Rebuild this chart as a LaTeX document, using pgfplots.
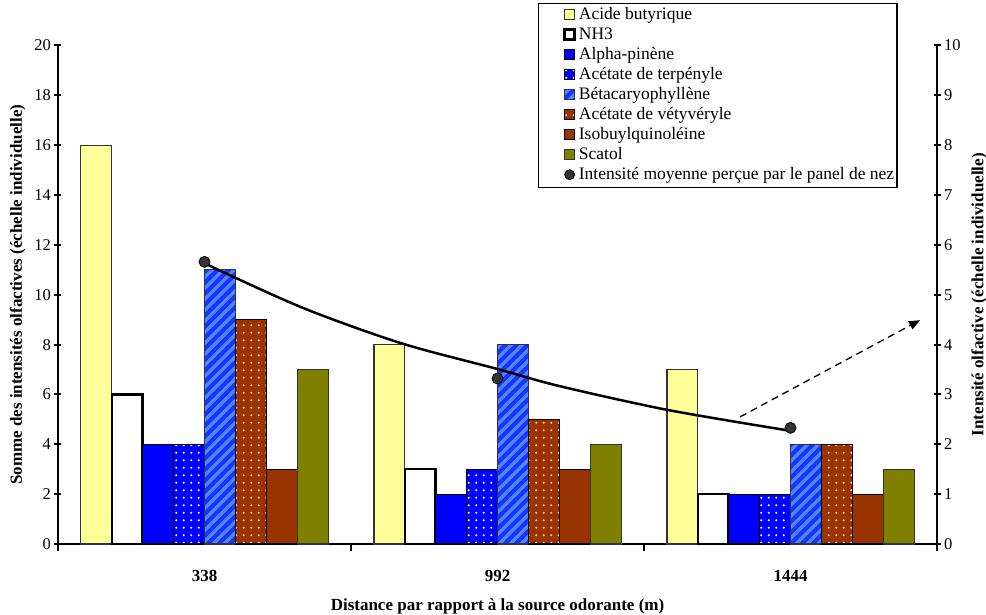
\documentclass[border=0pt]{standalone}
\usepackage{fontspec}
\setmainfont{Liberation Serif}
\usepackage{pgfplots}
\usepackage{pgfplotstable}
\pgfplotsset{compat=1.18}
\usetikzlibrary{patterns,arrows.meta}

\definecolor{cacide}{HTML}{FFFF99}
\definecolor{calpha}{HTML}{0000FF}
\definecolor{cbeta}{HTML}{1A33FF}
\definecolor{cbetastripe}{HTML}{4D88FF}
\definecolor{cbrown}{HTML}{993300}
\definecolor{ctan}{HTML}{FFCC99}
\definecolor{cscatol}{HTML}{808000}
\definecolor{cdot}{HTML}{333333}

% motifs des barres
\pgfdeclarepatternformonly{bardots}{\pgfqpoint{-1pt}{-1pt}}{\pgfqpoint{8.5pt}{8.5pt}}{\pgfqpoint{7.5pt}{7.5pt}}{%
  \pgfpathcircle{\pgfqpoint{3.75pt}{3.75pt}}{1.1pt}\pgfusepath{fill}}
\pgfdeclarepatternformonly{barstripes}{\pgfqpoint{-1pt}{-1pt}}{\pgfqpoint{12pt}{12pt}}{\pgfqpoint{11pt}{11pt}}{%
  \pgfsetlinewidth{3.2pt}\pgfpathmoveto{\pgfqpoint{-1pt}{-1pt}}\pgfpathlineto{\pgfqpoint{12pt}{12pt}}\pgfusepath{stroke}}

\pgfplotsset{
  /pgfplots/ybar legend/.style={/pgfplots/legend image code/.code={%
      \path (0pt,0pt);
      \draw[##1] (22pt,-4pt) rectangle (32pt,6pt);}},
}

% sommes des intensites par distance
\pgfplotstableread{
pos acide nh3 alpha terp beta vet isobu scatol
1   16    6   4     4    11   9   3     7
2   8     3   2     3    8    5   3     4
3   7     2   2     2    4    4   2     3
}\sommes

\begin{document}
\begin{tikzpicture}
\begin{axis}[
    at={(58pt,70pt)}, anchor=south west,
    scale only axis,
    width=879pt, height=498.5pt,
    ybar=0pt, bar width=30.9pt,
    xmin=0.5, xmax=3.5,
    ymin=0, ymax=20,
    xtick={0.5,1.5,2.5,3.5},
    xticklabels={338,992,1444},
    x tick label as interval,
    ytick={0,2,...,20},
    axis x line*=bottom, axis y line*=left,
    axis line style={line width=2pt,-},
    tick style={line width=2pt,black},
    major tick length=7pt, tick align=center,
    x tick style={yshift=-3.5pt},
    /pgf/number format/assume math mode=true,
    tick label style={font=\fontsize{16.5}{19}\selectfont},
    xticklabel style={font=\bfseries\fontsize{17}{20}\selectfont, yshift=-19pt},
    xlabel={Distance par rapport à la source odorante (m)},
    ylabel={Somme des intensités olfactives (échelle individuelle)},
    label style={font=\bfseries\fontsize{17}{20}\selectfont},
    xlabel style={yshift=-10pt},
    ylabel style={yshift=2pt},
    legend cell align=left,
    legend style={at={(rel axis cs:0.9556,1.0853)}, anchor=north east,
      draw=black, line width=1.5pt, inner xsep=3pt, inner ysep=4pt,
      font=\fontsize{17.5}{20}\selectfont,
      nodes={inner sep=0pt, text height=12pt, text depth=4pt},
      row sep=4pt, /tikz/every odd column/.append style={column sep=3pt}},
]
\addplot[fill=cacide, draw=black!80, line width=1.2pt] table[x=pos,y=acide] {\sommes};
\addlegendentry{Acide butyrique}
\addplot[fill=white, draw=black, line width=2.5pt] table[x=pos,y=nh3] {\sommes};
\addlegendentry{NH3}
\addplot[fill=calpha, draw=black, line width=1.2pt] table[x=pos,y=alpha] {\sommes};
\addlegendentry{Alpha-pinène}
\addplot[preaction={fill=calpha}, pattern=bardots, pattern color=white,
  draw=black, line width=1.2pt] table[x=pos,y=terp] {\sommes};
\addlegendentry{Acétate de terpényle}
\addplot[preaction={fill=cbeta}, pattern=barstripes, pattern color=cbetastripe,
  draw=black!80, line width=1.2pt] table[x=pos,y=beta] {\sommes};
\addlegendentry{Bétacaryophyllène}
\addplot[preaction={fill=cbrown}, pattern=bardots, pattern color=ctan,
  draw=black, line width=1.2pt] table[x=pos,y=vet] {\sommes};
\addlegendentry{Acétate de vétyvéryle}
\addplot[fill=cbrown, draw=black, line width=1.2pt] table[x=pos,y=isobu] {\sommes};
\addlegendentry{Isobuylquinoléine}
\addplot[fill=cscatol, draw=black!80, line width=1.2pt] table[x=pos,y=scatol] {\sommes};
\addlegendentry{Scatol}
\addlegendimage{legend image code/.code={%
    \path (0pt,0pt);
    \draw[fill=cdot, draw=black, line width=0.8pt] (27pt,1pt) circle (5pt);}}
\addlegendentry{Intensité moyenne perçue par le panel de nez}
\end{axis}

\begin{axis}[
    at={(58pt,70pt)}, anchor=south west,
    scale only axis,
    width=879pt, height=498.5pt,
    xmin=0.5, xmax=3.5,
    ymin=0, ymax=10,
    ytick={0,1,...,10},
    axis x line=none, axis y line*=right,
    axis line style={line width=2pt,-},
    tick style={line width=2pt,black},
    major tick length=7pt, tick align=center,
    /pgf/number format/assume math mode=true,
    tick label style={font=\fontsize{16.5}{19}\selectfont},
    ylabel={Intensité olfactive (échelle individuelle)},
    label style={font=\bfseries\fontsize{17}{20}\selectfont},
    ylabel style={yshift=-4pt},
]
% courbe de tendance de l'intensite moyenne
\addplot[smooth, black, line width=2.5pt] coordinates {
  (1,5.63) (1.33,4.75) (1.67,4.03) (2,3.51) (2.21,3.17) (2.58,2.69) (3,2.27)
};
\addplot[only marks, mark=*, mark size=5.5pt,
  mark options={fill=cdot, draw=black, line width=0.8pt}] coordinates {
  (1,5.66) (2,3.32) (3,2.33)
};
\draw[black, line width=1.3pt, dash pattern=on 7pt off 5pt, -{Triangle[length=11pt,width=9pt]}]
  (axis cs:2.828,2.55) -- (axis cs:3.442,4.49);
\end{axis}
\pgfresetboundingbox
\path[use as bounding box] (0pt,0pt) rectangle (986pt,614pt);
\end{tikzpicture}
\end{document}
